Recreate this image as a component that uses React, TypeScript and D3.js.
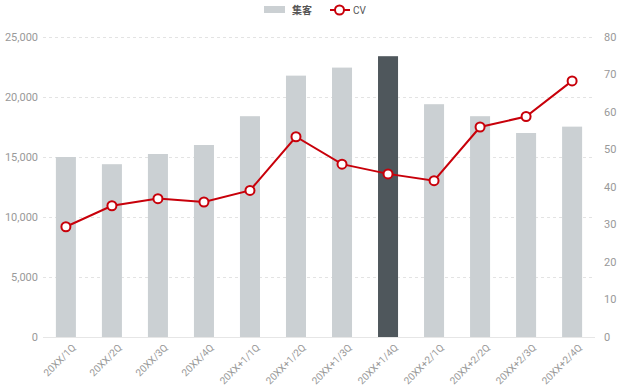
import * as d3 from "d3";
import { useEffect, useRef } from "react";

const categories = [
  "20XX/1Q", "20XX/2Q", "20XX/3Q", "20XX/4Q",
  "20XX+1/1Q", "20XX+1/2Q", "20XX+1/3Q", "20XX+1/4Q",
  "20XX+2/1Q", "20XX+2/2Q", "20XX+2/3Q", "20XX+2/4Q",
];
const visitors = [15000, 14400, 15250, 16000, 18400, 21780, 22450, 23400, 19400, 18400, 17000, 17530];
const cv = [29.4, 35.0, 36.9, 36.0, 39.1, 53.4, 46.1, 43.5, 41.7, 56.0, 58.8, 68.3];
const highlightIndex = 7;
const leftTicks = [0, 5000, 10000, 15000, 20000, 25000];
const rightTicks = [0, 10, 20, 30, 40, 50, 60, 70, 80];

const W = 620;
const H = 390;
const margin = { top: 37, right: 25, bottom: 53, left: 43 };
const font = "Roboto, 'Noto Sans CJK JP', sans-serif";

function App() {
  const ref = useRef<SVGSVGElement>(null);

  useEffect(() => {
    const svg = d3.select(ref.current);
    svg.selectAll("*").remove();

    const x0 = margin.left;
    const x1 = 595;
    const y0 = H - margin.bottom;
    const y1 = margin.top;

    const x = d3.scaleBand<string>().domain(categories).range([x0, x1]).paddingInner(0.565).paddingOuter(0.28);
    const yL = d3.scaleLinear().domain([0, 25000]).range([y0, y1]);
    const yR = d3.scaleLinear().domain([0, 80]).range([y0, y1]);

    // grid
    svg.append("g")
      .selectAll("line")
      .data(leftTicks.filter((t) => t > 0))
      .join("line")
      .attr("x1", x0)
      .attr("x2", x1)
      .attr("y1", (d) => yL(d) + 0.5)
      .attr("y2", (d) => yL(d) + 0.5)
      .attr("stroke", "#e3e3e3")
      .attr("stroke-dasharray", "3,3");

    // baseline
    svg.append("line")
      .attr("x1", x0).attr("x2", x1)
      .attr("y1", y0 + 0.5).attr("y2", y0 + 0.5)
      .attr("stroke", "#e6e6e6");

    // bars
    svg.append("g")
      .selectAll("rect")
      .data(visitors)
      .join("rect")
      .attr("x", (_, i) => x(categories[i])!)
      .attr("width", x.bandwidth())
      .attr("y", (d) => yL(d))
      .attr("height", (d) => y0 - yL(d))
      .attr("fill", (_, i) => (i === highlightIndex ? "#4f575c" : "#cbd0d3"));

    // left axis labels
    svg.append("g")
      .selectAll("text")
      .data(leftTicks)
      .join("text")
      .attr("x", 38)
      .attr("y", (d) => yL(d))
      .attr("dy", "0.35em")
      .attr("text-anchor", "end")
      .attr("fill", "#999")
      .style("font", `11px ${font}`)
      .text((d) => d3.format(",")(d));

    // right axis labels
    svg.append("g")
      .selectAll("text")
      .data(rightTicks)
      .join("text")
      .attr("x", 604)
      .attr("y", (d) => yR(d))
      .attr("dy", "0.35em")
      .attr("text-anchor", "start")
      .attr("fill", "#999")
      .style("font", `11px ${font}`)
      .text((d) => d);

    // x labels
    svg.append("g")
      .selectAll("text")
      .data(categories)
      .join("text")
      .attr("transform", (d) => `translate(${x(d)! + x.bandwidth() / 2 + 8},${y0 + 9}) rotate(-45)`)
      .attr("text-anchor", "end")
      .attr("dy", "0.35em")
      .attr("fill", "#999")
      .style("font", `10px ${font}`)
      .text((d) => d);

    // CV line
    const cx = (i: number) => x(categories[i])! + x.bandwidth() / 2;
    const line = d3.line<number>().x((_, i) => cx(i)).y((d) => yR(d));
    svg.append("path")
      .datum(cv)
      .attr("d", line)
      .attr("fill", "none")
      .attr("stroke", "#c8000a")
      .attr("stroke-width", 2);
    svg.append("g")
      .selectAll("circle")
      .data(cv)
      .join("circle")
      .attr("cx", (_, i) => cx(i))
      .attr("cy", (d) => yR(d))
      .attr("r", 4.5)
      .attr("fill", "#fff")
      .attr("stroke", "#c8000a")
      .attr("stroke-width", 2);

    // legend
    const lg = svg.append("g");
    lg.append("rect").attr("x", 264).attr("y", 6).attr("width", 21).attr("height", 7).attr("fill", "#cbd0d3");
    lg.append("text").attr("x", 292).attr("y", 10).attr("dy", "0.35em")
      .attr("fill", "#555").style("font", `bold 10px ${font}`).text("集客");
    lg.append("line").attr("x1", 330).attr("x2", 350).attr("y1", 10).attr("y2", 10)
      .attr("stroke", "#c8000a").attr("stroke-width", 2);
    lg.append("circle").attr("cx", 339.5).attr("cy", 10).attr("r", 4.5)
      .attr("fill", "#fff").attr("stroke", "#c8000a").attr("stroke-width", 2);
    lg.append("text").attr("x", 353).attr("y", 10).attr("dy", "0.35em")
      .attr("fill", "#555").style("font", `10px ${font}`).text("CV");
  }, []);

  return (
    <svg
      ref={ref}
      width={W}
      height={H}
      style={{ position: "absolute", left: 0, top: 0, background: "#fff" }}
    />
  );
}

export default App;
